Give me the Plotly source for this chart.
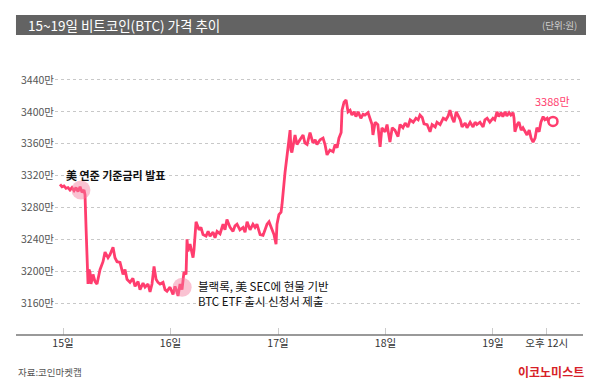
import plotly.graph_objects as go

# Hours since 15일 00:00
hours = [-0.67, -0.22, 0.22, 0.67, 1.12, 1.56, 2.0, 2.46, 2.9, 3.35, 3.8, 4.24, 4.69, 4.91,
         5.14, 5.36, 5.58, 5.8, 6.03, 6.25, 6.7, 7.15, 7.59, 8.26, 8.93, 9.38, 10.05, 10.5,
         11.17, 11.6, 12.06, 12.73, 13.4, 13.84, 14.29, 14.96, 15.6, 16.08, 16.75, 17.19,
         17.86, 18.31, 18.98, 19.43, 19.87, 20.32, 20.77, 21.2, 21.66, 22.33, 22.78, 23.22,
         23.89, 24.56, 25.0, 25.46, 25.68, 26.13, 26.57, 27.0, 27.47, 27.69, 27.9, 28.36,
         28.8, 29.03, 29.25, 29.7, 30.37, 30.8, 31.26, 31.93, 32.4, 32.83, 33.5, 33.94, 34.4,
         35.06, 35.73, 36.17, 36.6, 37.3, 37.96, 38.4, 38.85, 39.5, 40.2, 40.64, 41.1, 41.76,
         42.4, 42.87, 43.3, 44.0, 44.66, 45.1, 45.55, 46.0, 46.67, 47.1, 47.56, 47.78, 48.2,
         48.68, 48.9, 49.13, 49.57, 50.0, 50.47, 50.7, 50.9, 51.1, 51.8, 52.25, 52.9, 53.6,
         54.0, 54.5, 55.15, 55.8, 56.3, 56.7, 57.4, 58.06, 58.5, 58.95, 59.6, 60.3, 60.74,
         61.2, 61.6, 62.1, 62.3, 62.75, 63.2, 63.64, 64.1, 64.5, 65.0, 65.4, 65.9, 66.5, 67.0,
         67.4, 68.1, 68.6, 69.0, 69.2, 69.7, 70.3, 70.8, 71.2, 71.9, 72.35, 73.0, 73.5, 74.1,
         74.8, 75.25, 75.9, 76.4, 77.0, 77.5, 78.2, 78.8, 79.3, 79.7, 80.2, 80.6, 81.3, 81.95,
         82.4, 83.1, 83.5, 84.2, 84.9, 85.5, 86.0, 86.4, 86.9, 87.3, 87.8, 88.2, 88.7, 89.1,
         89.8, 90.2, 90.9, 91.55, 92.0, 92.4, 93.1, 93.8, 94.2, 94.7, 95.3, 96.0, 96.4, 96.9,
         97.3, 97.8, 98.2, 98.7, 99.1, 99.6, 100.0, 100.5, 100.7, 100.9, 101.4, 101.8, 102.3,
         102.7, 103.2, 103.6, 104.1, 104.5, 104.95, 105.4, 105.8, 106.3, 106.7, 107.2, 107.6,
         108.1, 108.5, 109.0, 109.4]

# BTC price in 만원
prices = [3309, 3306, 3307, 3304, 3305, 3302, 3305, 3301, 3305, 3300, 3306, 3299, 3302, 3296,
          3255, 3215, 3184, 3202, 3199, 3184, 3196, 3187, 3184, 3202, 3212, 3224, 3217, 3221,
          3230, 3217, 3212, 3211, 3196, 3202, 3190, 3186, 3191, 3181, 3187, 3177,
          3185, 3180, 3184, 3174, 3184, 3206, 3190, 3186, 3184, 3186, 3177, 3175,
          3180, 3171, 3181, 3174, 3169, 3184, 3177, 3199, 3196, 3240, 3225, 3234,
          3220, 3217, 3227, 3262, 3252, 3255, 3246, 3244, 3250, 3244, 3249, 3242, 3250,
          3247, 3259, 3252, 3265, 3255, 3250, 3257, 3259, 3252, 3255, 3249, 3262, 3252,
          3259, 3255, 3259, 3246, 3245, 3252, 3259, 3262, 3252, 3246, 3234, 3259, 3271,
          3274, 3284, 3302, 3324, 3344, 3365, 3377, 3352, 3349, 3371, 3359, 3365, 3371,
          3361, 3359, 3374, 3361, 3365, 3359, 3365, 3367, 3359, 3346, 3352, 3350, 3359,
          3355, 3367, 3374, 3402, 3412, 3415, 3400, 3402, 3396, 3400, 3394, 3400, 3392, 3397,
          3396, 3399, 3390, 3384, 3371, 3387, 3384, 3356, 3380, 3375, 3384, 3362, 3380, 3377,
          3369, 3384, 3380, 3386, 3381, 3390, 3387, 3392, 3390, 3396, 3393, 3385, 3384, 3375,
          3384, 3381, 3387, 3384, 3392, 3390, 3395, 3402, 3392, 3387, 3400, 3396, 3390, 3381,
          3386, 3380, 3387, 3381, 3387, 3384, 3387, 3381, 3390, 3392, 3387, 3392, 3390, 3400,
          3394, 3399, 3394, 3400, 3395, 3399, 3396, 3399, 3392, 3375, 3384, 3387, 3377,
          3380, 3374, 3371, 3377, 3367, 3362, 3367, 3380, 3375, 3387, 3394, 3390,
          3392, 3387, 3390, 3388]

event_hours = [4.0, 26.6]
event_prices = [3302, 3180]
event_label_1 = "美 연준 기준금리 발표"
event_label_2 = ["블랙록, 美 SEC에 현물 기반", "BTC ETF 출시 신청서 제출"]

x_tickvals = [0, 24, 48, 72, 96, 108]
x_ticktext = ["15일", "16일", "17일", "18일", "19일", "오후 12시"]
y_tickvals = [3160, 3200, 3240, 3280, 3320, 3360, 3400, 3440]
y_ticktext = [f"{v}만" for v in y_tickvals]

FONT = "Noto Sans CJK KR"
PINK = "#ff3d6e"

fig = go.Figure()
fig.add_trace(go.Scatter(x=hours, y=prices, mode="lines",
                         line=dict(color=PINK, width=2.8), hoverinfo="skip"))
fig.add_trace(go.Scatter(x=event_hours, y=event_prices, mode="markers",
                         marker=dict(size=19, color="rgba(245,120,155,0.45)", line=dict(width=0)),
                         hoverinfo="skip"))
fig.add_trace(go.Scatter(x=[hours[-1]], y=[prices[-1]], mode="markers",
                         marker=dict(size=9, color="white", line=dict(color=PINK, width=2.5)),
                         hoverinfo="skip"))

fig.update_layout(
    width=584, height=373,
    margin=dict(l=47, r=9, t=62, b=46),
    paper_bgcolor="white", plot_bgcolor="white",
    showlegend=False,
    font=dict(family=FONT, color="#444"),
    xaxis=dict(range=[-1.79, 116.1], tickvals=x_tickvals, ticktext=x_ticktext,
               showgrid=False, zeroline=False, showline=False,
               ticks="inside", ticklen=7, tickcolor="#cccccc", tickwidth=1,
               tickfont=dict(size=10.5, color="#333", family=FONT)),
    yaxis=dict(range=[3120, 3452.5], tickvals=y_tickvals, ticktext=y_ticktext,
               showgrid=True, gridcolor="#c8c8c8", griddash="dot", gridwidth=1,
               zeroline=False, showline=False, ticks="",
               tickfont=dict(size=10.5, color="#555", family=FONT)),
)

# axis baseline
fig.add_shape(type="line", xref="paper", yref="paper", x0=-0.0739, x1=1.0, y0=0, y1=0,
              line=dict(color="#777", width=1.5))
# title bar
fig.add_shape(type="rect", xref="paper", yref="paper", x0=-0.0739, x1=1.0057,
              y0=1.1321, y1=1.2075, fillcolor="#636363", line=dict(width=0), layer="below")

fig.add_annotation(xref="paper", yref="paper", x=-0.055, y=1.1698, xanchor="left", yanchor="middle",
                   text="15~19일 비트코인(BTC) 가격 추이", showarrow=False,
                   font=dict(size=13.5, color="white", family=FONT))
fig.add_annotation(xref="paper", yref="paper", x=0.9924, y=1.1698, xanchor="right", yanchor="middle",
                   text="(단위:원)", showarrow=False, font=dict(size=9.5, color="#cfcfcf", family=FONT))
fig.add_annotation(xref="paper", yref="paper", x=-0.0739, y=-0.1396, xanchor="left", yanchor="middle",
                   text="자료:코인마켓캡", showarrow=False, font=dict(size=9.5, color="#555", family=FONT))
fig.add_annotation(xref="paper", yref="paper", x=1.0057, y=-0.1396, xanchor="right", yanchor="middle",
                   text="<b>이코노미스트</b>", showarrow=False, font=dict(size=12, color="#d71f28", family=FONT))

# event labels
fig.add_annotation(x=0.3, y=3321, xanchor="left", yanchor="middle", text="<b>" + event_label_1 + "</b>",
                   showarrow=False, font=dict(size=11, color="#111", family=FONT))
fig.add_annotation(x=29.8, y=3182, xanchor="left", yanchor="middle", align="left",
                   text=event_label_2[0], showarrow=False,
                   font=dict(size=11.5, color="#111", family=FONT))
fig.add_annotation(x=29.8, y=3163, xanchor="left", yanchor="middle", align="left",
                   text=event_label_2[1], showarrow=False,
                   font=dict(size=11.5, color="#111", family=FONT))
# last value label
fig.add_annotation(x=hours[-1], y=prices[-1], yanchor="bottom", yshift=10, text="3388만",
                   showarrow=False, font=dict(size=11, color=PINK, family=FONT))

fig.write_html("out.html")
